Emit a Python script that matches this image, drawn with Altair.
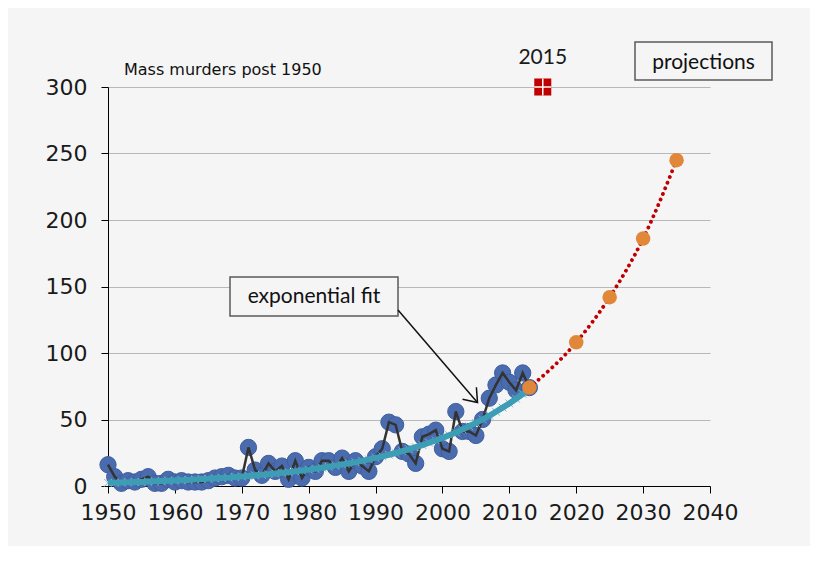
import altair as alt
import pandas as pd

# ---------------- data ----------------
years = list(range(1950, 2014))
observed = [16, 7, 2, 4, 3, 5, 7, 2, 2, 5,
            3, 4, 3, 3, 3, 4, 6, 7, 8, 6,
            6, 29, 12, 8, 17, 11, 15, 5, 19, 6,
            14, 11, 19, 19, 14, 21, 11, 19, 15, 11,
            22, 28, 48, 46, 26, 24, 17, 37, 39, 42,
            28, 26, 56, 41, 41, 38, 50, 66, 76, 85,
            78, 72, 85, 74]
fit = [2.4, 2.5, 2.7, 2.8, 3.0, 3.1, 3.3, 3.5, 3.7, 3.9,
       4.1, 4.4, 4.6, 4.9, 5.2, 5.4, 5.8, 6.1, 6.4, 6.8,
       7.1, 7.5, 8.0, 8.4, 8.9, 9.4, 9.9, 10.4, 11.0, 11.6,
       12.3, 13.0, 13.7, 14.5, 15.3, 16.1, 17.0, 17.9, 18.9, 20.0,
       21.1, 22.3, 23.5, 24.8, 26.2, 27.6, 29.2, 30.8, 32.5, 34.3,
       36.2, 38.2, 40.3, 42.6, 44.9, 47.4, 50.1, 52.8, 55.8, 58.9,
       62.1, 65.6, 69.2, 73.0]
proj_years = [2013, 2020, 2025, 2030, 2035]
proj_values = [74, 108, 142, 186, 245]
marker_years = [2015]
marker_values = [300]
marker_labels = ["2015"]
x_ticks = [1950, 1960, 1970, 1980, 1990, 2000, 2010, 2020, 2030, 2040]
y_ticks = [0, 50, 100, 150, 200, 250, 300]
title_text = ["Mass murders post 1950"]
box1_text = ["projections"]
box2_text = ["exponential fit"]

obs_df = pd.DataFrame({"year": years, "value": observed})
fit_df = pd.DataFrame({"year": years, "value": fit})
proj_df = pd.DataFrame({"year": proj_years, "value": proj_values})
mk_df = pd.DataFrame({"year": marker_years, "value": marker_values, "label": marker_labels})

BG = "#F5F5F5"
xs = alt.Scale(domain=[1950, 2040], nice=False, zero=False)
ys = alt.Scale(domain=[0, 300], nice=False)

x_axis = alt.Axis(values=x_ticks, format="d", grid=False, title=None,
                  domainColor="#000000", tickColor="#000000", tickSize=7,
                  labelFont="DejaVu Sans", labelFontSize=22, labelColor="#1a1a1a",
                  labelPadding=9, labelFlush=False)
y_axis = alt.Axis(values=y_ticks, grid=True, gridColor="#B8B8B8", gridWidth=1,
                  title=None, domainColor="#000000", tickColor="#000000", tickSize=7,
                  labelFont="DejaVu Sans", labelFontSize=22, labelColor="#1a1a1a",
                  labelPadding=14)

def X():
    return alt.X("year:Q", scale=xs, axis=x_axis)

def Y():
    return alt.Y("value:Q", scale=ys, axis=y_axis)

dots = alt.Chart(obs_df).mark_circle(size=265, color="#4A6CAE", opacity=1,
                                     stroke="#3F5E9E", strokeWidth=1).encode(x=X(), y=Y())
obs_line = alt.Chart(obs_df).mark_line(color="#333333", strokeWidth=2.5).encode(x=X(), y=Y())
fit_cross = alt.Chart(fit_df).mark_point(shape="M-1,-1L1,1M-1,1L1,-1", size=60,
                                         filled=False, color="#7DB9CA", strokeWidth=1,
                                         opacity=1).encode(x=X(), y=Y())
fit_line = alt.Chart(fit_df).mark_line(color="#3C9DB4", strokeWidth=6).encode(x=X(), y=Y())
proj_line = alt.Chart(proj_df).mark_line(color="#C00000", strokeWidth=3.8, strokeCap="round",
                                         strokeDash=[0.1, 6], interpolate="monotone").encode(
    x=X(), y=Y())
proj_dots = alt.Chart(proj_df).mark_circle(size=210, color="#E0873A", opacity=1).encode(
    x=X(), y=Y())

mk_sq = alt.Chart(mk_df).mark_square(size=290, color="#C00000", opacity=1).encode(x=X(), y=Y())
mk_cross = alt.Chart(mk_df).mark_point(shape="M-1,0L1,0M0,-1L0,1", size=290, filled=False,
                                       color="#FFFFFF", strokeWidth=1.5, opacity=1).encode(
    x=X(), y=Y())
mk_txt = alt.Chart(mk_df).mark_text(font="Lato", fontSize=21, color="#1a1a1a", dy=-29).encode(
    x=X(), y=Y(), text="label:N")

title_mark = alt.Chart(pd.DataFrame({"t": title_text})).mark_text(
    font="DejaVu Sans", fontSize=16, color="#111111", align="left", baseline="middle").encode(
    x=alt.value(16), y=alt.value(-17), text="t:N")

box1 = alt.Chart(pd.DataFrame({"t": box1_text})).mark_rect(
    fill=BG, stroke="#5a5a5a", strokeWidth=1.5).encode(
    x=alt.value(527), x2=alt.value(664), y=alt.value(-45), y2=alt.value(-7))
box1_t = alt.Chart(pd.DataFrame({"t": box1_text})).mark_text(
    font="Lato", fontSize=21, color="#111111", baseline="middle").encode(
    x=alt.value(595.5), y=alt.value(-24), text="t:N")

box2 = alt.Chart(pd.DataFrame({"t": box2_text})).mark_rect(
    fill=BG, stroke="#5a5a5a", strokeWidth=1.5).encode(
    x=alt.value(122), x2=alt.value(290), y=alt.value(190), y2=alt.value(229))
box2_t = alt.Chart(pd.DataFrame({"t": box2_text})).mark_text(
    font="Lato", fontSize=21, color="#111111", baseline="middle").encode(
    x=alt.value(206), y=alt.value(210), text="t:N")
arrow = alt.Chart(pd.DataFrame({"t": box2_text})).mark_rule(color="#111111", strokeWidth=1.5).encode(
    x=alt.value(290), y=alt.value(223), x2=alt.value(369), y2=alt.value(315))
arrow_head = alt.Chart(pd.DataFrame({"t": box2_text})).mark_point(
    shape="M-1,-0.75L0,0L-1,0.75", size=600, angle=49, filled=False,
    color="#111111", strokeWidth=1.5, opacity=1).encode(
    x=alt.value(369.5), y=alt.value(315.5))

chart = alt.layer(
    dots, obs_line, fit_cross, fit_line, proj_line, proj_dots,
    mk_sq, mk_cross, mk_txt, title_mark, box1, box1_t, box2, box2_t, arrow, arrow_head
).properties(
    width=602, height=399,
    autosize=alt.AutoSizeParams(type="none"),
    padding={"left": 100, "top": 79, "right": 100, "bottom": 60},
    background=BG,
).configure_view(stroke=None)

chart.save("out.html", embed_options={"renderer": "svg", "actions": False})
